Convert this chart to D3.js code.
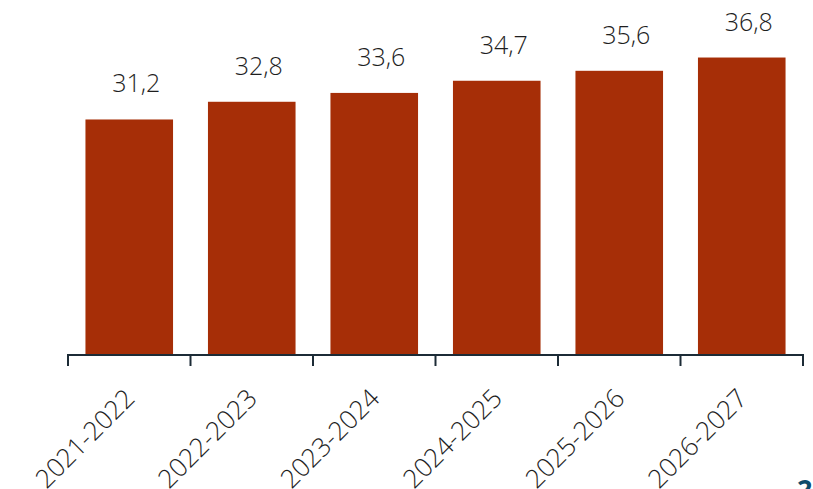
<!DOCTYPE html>
<html>
<head>
<meta charset="utf-8">
<script src="https://cdn.jsdelivr.net/npm/d3@7"></script>
<style>
  body { margin: 0; background: #fff; }
  svg text { font-family: "Open Sans", "Noto Sans", sans-serif; }
</style>
</head>
<body>
<div id="graph"></div>
<script>
const years = ['2021-2022', '2022-2023', '2023-2024', '2024-2025', '2025-2026', '2026-2027']
const values = [31.2, 32.8, 33.6, 34.7, 35.6, 36.8]
const valueLabels = ['31,2', '32,8', '33,6', '34,7', '35,6', '36,8']

const plottGraph = () => {
    let width = 813
    let height = 489
    const barColor = '#a62e07'
    const axisColor = '#1c2b36'

    const graph = d3.select('#graph')
    .append('svg')
    .attr('width', width)
    .attr('height', height)

    let xScale = d3.scaleBand().domain(years).range([68, 803]).paddingInner(0.285).paddingOuter(0.1425)
    // value axis doesn't start at zero in the original
    let yScale = d3.scaleLinear().domain([10, 42]).range([354, 0])

    graph.selectAll('rect')
    .data(values)
    .enter()
    .append('rect')
    .attr('x', (d, i) => xScale(years[i]))
    .attr('y', d => yScale(d))
    .attr('width', xScale.bandwidth())
    .attr('height', d => yScale(10) - yScale(d))
    .attr('fill', barColor)

    graph.selectAll('.val')
    .data(values)
    .enter()
    .append('text')
    .attr('class', 'val')
    .attr('x', (d, i) => xScale(years[i]) + xScale.bandwidth() / 2 + 7)
    .attr('y', d => yScale(d) - 27)
    .attr('text-anchor', 'middle')
    .attr('font-size', 25)
    .attr('font-weight', 300)
    .attr('fill', '#1e1e1e')
    .text((d, i) => valueLabels[i])

    // axis with ticks on band boundaries
    const axis = graph.append('g').attr('id', 'x-axis')
    axis.append('line')
    .attr('x1', 67).attr('x2', 804)
    .attr('y1', 355).attr('y2', 355)
    .attr('stroke', axisColor).attr('stroke-width', 2)

    const step = xScale.step()
    const bounds = years.map((d, i) => xScale(d) - xScale.paddingOuter() * step).concat([803])
    axis.selectAll('.tick')
    .data(bounds)
    .enter()
    .append('line')
    .attr('x1', d => d).attr('x2', d => d)
    .attr('y1', 354).attr('y2', 366)
    .attr('stroke', axisColor).attr('stroke-width', 2)

    axis.selectAll('.lbl')
    .data(years)
    .enter()
    .append('text')
    .attr('class', 'lbl')
    .attr('text-anchor', 'end')
    .attr('transform', d => `translate(${xScale(d) + xScale.bandwidth() / 2 + 7},${400}) rotate(-45)`)
    .attr('font-size', 26)
    .attr('font-weight', 300)
    .attr('fill', '#1e1e1e')
    .text(d => d)

    graph.append('text')
    .attr('x', 797)
    .attr('y', 499)
    .attr('font-size', 27)
    .attr('font-weight', 700)
    .attr('fill', '#0f4c6b')
    .text('2')
}

plottGraph()
</script>
</body>
</html>
